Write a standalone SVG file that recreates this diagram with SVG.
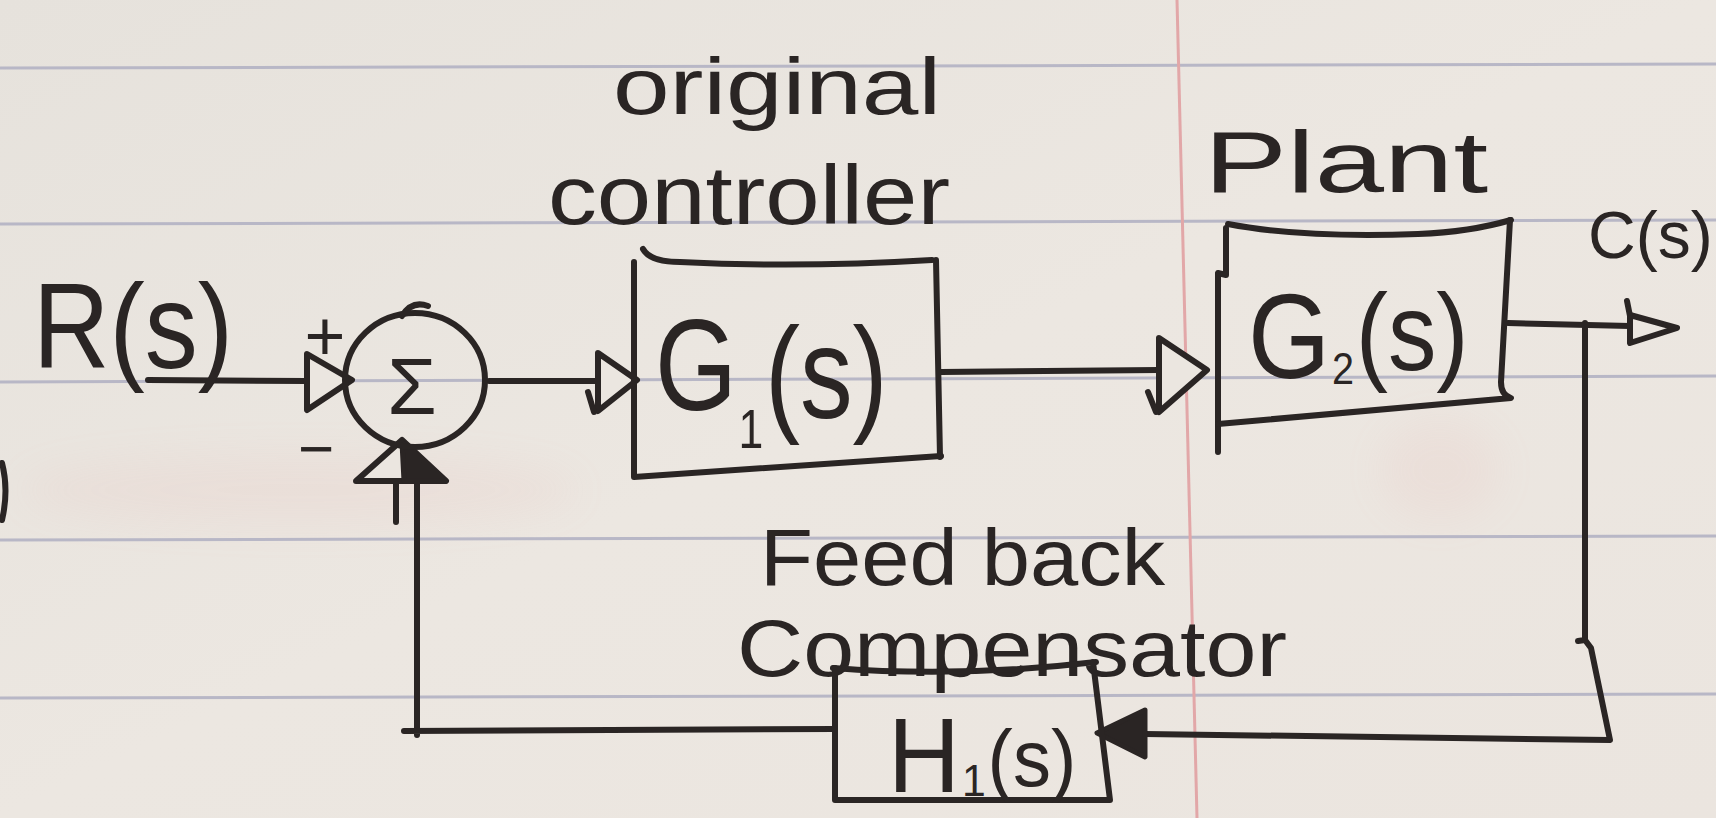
<svg xmlns="http://www.w3.org/2000/svg" width="1716" height="818" viewBox="0 0 1716 818">
  <style>
    .ink { fill: none; stroke: #2a2524; stroke-width: 6; stroke-linecap: round; stroke-linejoin: round; }
    .head-open { fill: #ebe6e0; stroke: #2a2524; stroke-width: 6; stroke-linejoin: round; }
    .head-solid { fill: #2a2524; stroke: #2a2524; stroke-width: 5; stroke-linejoin: round; }
    .rule { stroke: #b8b7c6; stroke-width: 3; fill: none; }
    .margin { stroke: #e2a7a8; stroke-width: 3; fill: none; }
    text { font-family: "Liberation Sans", Arial, sans-serif; fill: #2a2524; }
  </style>
  <defs>
    <linearGradient id="paper" x1="0" y1="0" x2="1" y2="1">
      <stop offset="0" stop-color="#e6e2dc"/>
      <stop offset="0.5" stop-color="#ece7e1"/>
      <stop offset="1" stop-color="#ebe5df"/>
    </linearGradient>
    <filter id="soft" x="-20%" y="-50%" width="140%" height="200%">
      <feGaussianBlur stdDeviation="20"/>
    </filter>
  </defs>

  <!-- notebook paper -->
  <rect width="1716" height="818" fill="url(#paper)"/>
  <g opacity="0.09" filter="url(#soft)">
    <ellipse cx="300" cy="490" rx="280" ry="35" fill="#e39a96"/>
    <ellipse cx="1440" cy="470" rx="60" ry="50" fill="#e39a96"/>
  </g>
  <g id="ruling">
    <path class="rule" d="M0,68 L1716,64"/>
    <path class="rule" d="M0,224 L1716,220"/>
    <path class="rule" d="M0,382 L1716,376"/>
    <path class="rule" d="M0,540 L1716,536"/>
    <path class="rule" d="M0,698 L1716,694"/>
    <path class="margin" d="M1177,0 L1197,818"/>
  </g>
  <path class="ink" d="M2,463 Q9,490 2,520"/>

  <!-- connectors -->
  <g id="connectors">
    <path class="ink" d="M148,380 L307,381"/>
    <path class="head-open" d="M307,354 L352,380 L307,410 Z"/>

    <path class="ink" d="M489,381 L598,381"/>
    <path class="head-open" d="M598,353 L637,380 L598,411 Z"/>
    <path class="ink" d="M588,392 L594,412"/>

    <path class="ink" d="M941,372 L1159,370"/>
    <path class="head-open" d="M1159,338 L1207,370 L1159,412 Z"/>
    <path class="ink" d="M1148,392 L1156,412"/>

    <path class="ink" d="M1508,323 L1630,326"/>
    <path class="head-open" d="M1630,315 L1677,328 L1630,343 Z"/>
    <path class="ink" d="M1627,301 L1630,316"/>

    <path class="ink" d="M1585,323 L1585,640 L1578,641 M1585,640 L1591,648 L1610,740 L1145,734"/>
    <path class="head-solid" d="M1145,710 L1097,733 L1145,757 Z"/>

    <path class="ink" d="M835,729 L404,731 M417,735 L417,481 M396,481 L396,522"/>
    <path class="head-open" d="M356,481 L402,440 L446,481 Z"/>
    <path class="head-solid" d="M402,442 L446,481 L404,481 Z"/>
  </g>

  <!-- summing junction -->
  <g id="sum">
    <ellipse class="ink" cx="415" cy="380" rx="70" ry="67"/>
    <path class="ink" d="M402,316 Q412,300 428,306"/>
    <text x="412" y="414" font-size="80" text-anchor="middle">Σ</text>
    <text x="325" y="360" font-size="70" text-anchor="middle">+</text>
    <text x="316" y="470" font-size="62" text-anchor="middle">−</text>
  </g>

  <!-- input label -->
  <g id="input">
    <text x="33" y="368" font-size="120" textLength="200" lengthAdjust="spacingAndGlyphs">R(s)</text>
  </g>

  <!-- controller block -->
  <g id="controller">
    <text x="613" y="114" font-size="80" textLength="328" lengthAdjust="spacingAndGlyphs">original</text>
    <text x="548" y="224" font-size="84" textLength="402" lengthAdjust="spacingAndGlyphs">controller</text>
    <path class="ink" d="M643,249 Q650,262 680,262 Q800,268 932,260"/>
    <path class="ink" d="M634,262 L634,477 L941,456"/>
    <path class="ink" d="M936,260 L940,457"/>
    <text transform="translate(655,410) scale(0.81,1)" font-size="130">G<tspan font-size="55" dx="2" dy="38">1</tspan><tspan dx="2" dy="-30">(s)</tspan></text>
  </g>

  <!-- plant block -->
  <g id="plant">
    <text x="1204" y="192" font-size="88" textLength="284" lengthAdjust="spacingAndGlyphs">Plant</text>
    <path class="ink" d="M1228,224 Q1300,238 1418,234 Q1470,232 1511,220"/>
    <path class="ink" d="M1226,228 L1226,275 L1218,273 L1218,452"/>
    <path class="ink" d="M1510,220 L1501,382 Q1501,395 1511,398 L1218,424"/>
    <text transform="translate(1248,378) scale(0.88,1)" font-size="120">G<tspan font-size="45" dx="2" dy="6">2</tspan><tspan font-size="110" dx="2" dy="-14">(s)</tspan></text>
  </g>

  <!-- output label -->
  <g id="output">
    <text x="1588" y="258" font-size="66">C(s)</text>
  </g>

  <!-- feedback compensator block -->
  <g id="compensator">
    <text x="760" y="585" font-size="80" textLength="405" lengthAdjust="spacingAndGlyphs">Feed back</text>
    <text x="737" y="676" font-size="80" textLength="550" lengthAdjust="spacingAndGlyphs">Compensator</text>
    <path class="ink" d="M833,668 Q960,678 1096,662"/>
    <path class="ink" d="M835,668 L835,800 L1110,800 L1093,662"/>
    <text transform="translate(888,792) scale(0.95,1)" font-size="105">H<tspan font-size="45" dx="2" dy="4">1</tspan><tspan font-size="80" dx="2" dy="-10">(s)</tspan></text>
  </g>
</svg>
